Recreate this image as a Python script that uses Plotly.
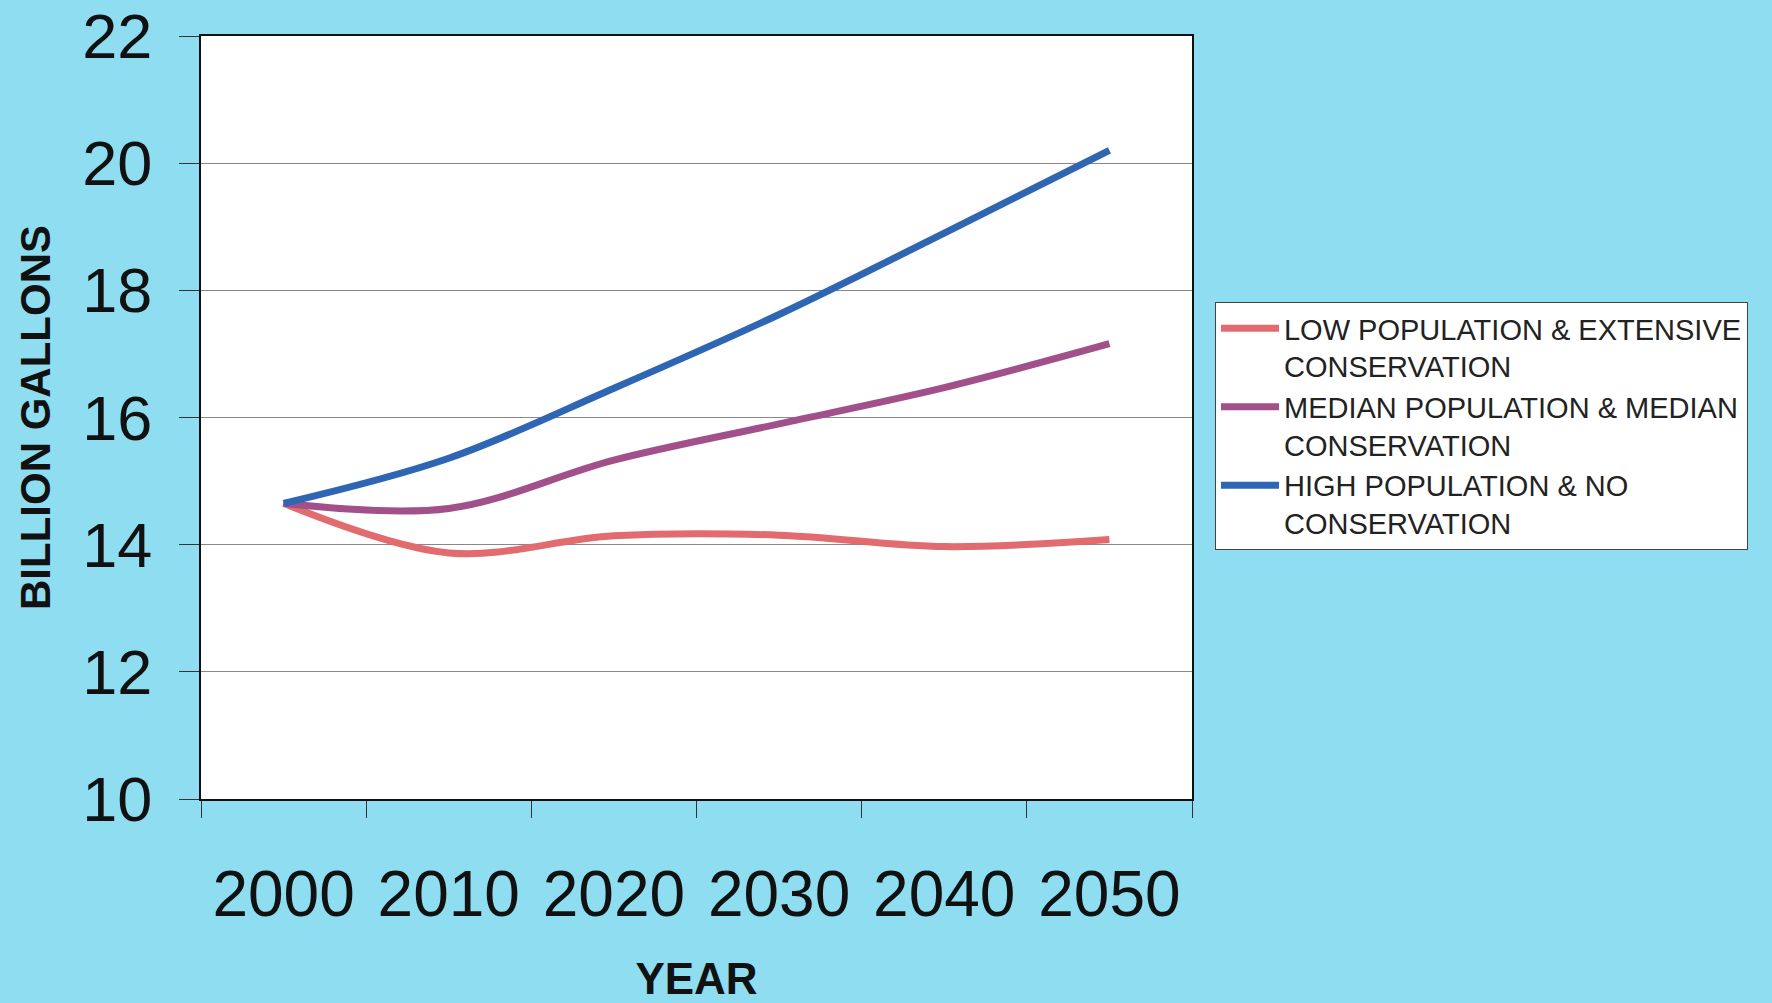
import plotly.graph_objects as go

years = ["2000", "2010", "2020", "2030", "2040", "2050"]
low_pop = [14.65, 13.87, 14.14, 14.15, 13.97, 14.08]
median_pop = [14.65, 14.57, 15.33, 15.90, 16.47, 17.16]
high_pop = [14.65, 15.36, 16.46, 17.62, 18.90, 20.20]

names = [
    "LOW POPULATION & EXTENSIVE<br>CONSERVATION",
    "MEDIAN POPULATION & MEDIAN<br>CONSERVATION",
    "HIGH POPULATION & NO<br>CONSERVATION",
]
colors = ["#E26B6F", "#A2508A", "#2F66B3"]
series = [low_pop, median_pop, high_pop]

fig = go.Figure()
for name, color, vals in zip(names, colors, series):
    fig.add_trace(go.Scatter(
        x=years, y=vals, name=name, mode="lines",
        line=dict(color=color, width=7, shape="spline", smoothing=1),
    ))

FONT = "Liberation Sans, Arial, sans-serif"
fig.update_layout(
    width=1772, height=1003,
    paper_bgcolor="#8EDDF0",
    plot_bgcolor="#FFFFFF",
    margin=dict(l=201, r=580, t=36, b=204, autoexpand=False),
    font=dict(family=FONT, color="#1a1a1a"),
    showlegend=True,
    legend=dict(
        x=1.0232, y=0.6514, xanchor="left", yanchor="top",
        bgcolor="#FFFFFF", bordercolor="#444444", borderwidth=1,
        font=dict(family=FONT, size=29, color="#222222"),
        valign="top", tracegroupgap=0, itemwidth=58,
    ),
    xaxis=dict(
        type="category", range=[-0.5, 5.5],
        tickson="boundaries", ticks="outside", ticklen=17, tickcolor="#333333",
        tickwidth=1,
        showline=True, linecolor="#111111", linewidth=2, mirror=True,
        showgrid=False,
        tickfont=dict(family=FONT, size=64, color="#111111"),
        ticklabelstandoff=38,
        title=dict(text="<b>YEAR</b>", font=dict(family=FONT, size=44, color="#111111"),
                   standoff=42),
    ),
    yaxis=dict(
        range=[10, 22], dtick=2, tick0=10,
        ticks="outside", ticklen=20, tickcolor="#333333", tickwidth=1,
        showline=True, linecolor="#111111", linewidth=2, mirror=True,
        showgrid=True, gridcolor="#888888", gridwidth=1,
        zeroline=False,
        tickfont=dict(family=FONT, size=63, color="#111111"),
        ticklabelstandoff=14,
        title=dict(text="<b>BILLION GALLONS</b>", font=dict(family=FONT, size=42, color="#111111"),
                   standoff=19),
    ),
)

fig.write_html("out.html")
